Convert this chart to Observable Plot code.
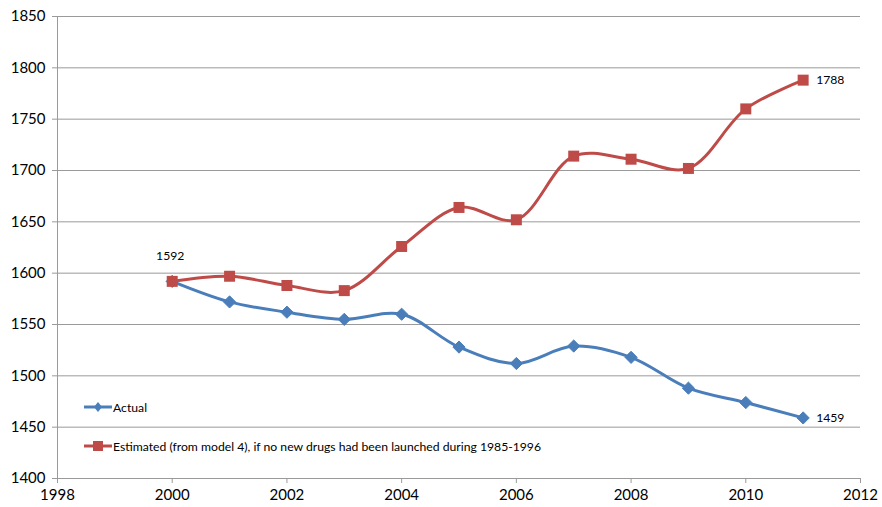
<!DOCTYPE html>
<html>
<head>
<meta charset="utf-8">
<script src="https://cdn.jsdelivr.net/npm/d3@7"></script>
<script src="https://cdn.jsdelivr.net/npm/@observablehq/plot@0.6"></script>
<style>
  html, body { margin: 0; padding: 0; background: #fff; }
  #wrap { position: relative; width: 882px; height: 507px; font-family: Lato, "Liberation Sans", sans-serif; }
  .leg { position: absolute; display: flex; align-items: center; font-size: 12.2px; color: #000; white-space: nowrap; }
  .leg svg { margin-right: 1px; }
</style>
</head>
<body>
<div id="wrap"></div>
<script>
const years = [2000, 2001, 2002, 2003, 2004, 2005, 2006, 2007, 2008, 2009, 2010, 2011];
const actual = [1592, 1572, 1562, 1555, 1560, 1528, 1512, 1529, 1518, 1488, 1474, 1459];
const estimated = [1592, 1597, 1588, 1583, 1626, 1664, 1652, 1714, 1711, 1702, 1760, 1788];
const seriesNames = ["Actual", "Estimated (from model 4), if no new drugs had been launched during 1985-1996"];
const seriesColors = ["#4a7ebb", "#be4b48"];
const xTicks = [1998, 2000, 2002, 2004, 2006, 2008, 2010, 2012];
const yTicks = [1400, 1450, 1500, 1550, 1600, 1650, 1700, 1750, 1800, 1850];

const actualData = years.map((y, i) => ({year: y, value: actual[i]}));
const estData = years.map((y, i) => ({year: y, value: estimated[i]}));
const lastA = actualData.slice(-1);
const lastE = estData.slice(-1);
const firstE = estData.slice(0, 1);

const plot = Plot.plot({
  width: 882,
  height: 507,
  marginLeft: 57,
  marginRight: 22,
  marginTop: 16,
  marginBottom: 29,
  style: {fontFamily: "Lato, 'Liberation Sans', sans-serif", background: "#fff", overflow: "visible"},
  x: {domain: [1998, 2012]},
  y: {domain: [1400, 1850]},
  marks: [
    Plot.ruleY(yTicks, {stroke: "#9a9a9a", strokeWidth: 1}),
    Plot.ruleX([1998], {stroke: "#9a9a9a", strokeWidth: 1}),
    Plot.axisY({ticks: yTicks, tickSize: 5, tickPadding: 7, fontSize: 15, stroke: "#9a9a9a", color: "#000", tickFormat: d => String(d), label: null}),
    Plot.axisX({ticks: xTicks, tickSize: 5, tickPadding: 6, fontSize: 15, stroke: "#9a9a9a", color: "#000", tickFormat: d => String(d), label: null}),
    Plot.lineY(actualData, {x: "year", y: "value", stroke: seriesColors[0], strokeWidth: 3, curve: "catmull-rom"}),
    Plot.lineY(estData, {x: "year", y: "value", stroke: seriesColors[1], strokeWidth: 3, curve: "catmull-rom"}),
    Plot.dot(actualData, {x: "year", y: "value", symbol: "diamond2", r: 5.5, fill: seriesColors[0], stroke: seriesColors[0], strokeWidth: 1}),
    Plot.dot(estData, {x: "year", y: "value", symbol: "square", r: 6.2, fill: seriesColors[1], stroke: seriesColors[1], strokeWidth: 0}),
    Plot.text(lastE, {x: "year", y: "value", text: d => String(d.value), dx: 13, textAnchor: "start", fontSize: 12.2, fill: "#000"}),
    Plot.text(lastA, {x: "year", y: "value", text: d => String(d.value), dx: 13, textAnchor: "start", fontSize: 12.2, fill: "#000"}),
    Plot.text(firstE, {x: "year", y: "value", text: d => String(d.value), dx: -2, dy: -25, textAnchor: "middle", fontSize: 12.2, fill: "#000"})
  ]
});

const wrap = document.getElementById("wrap");
wrap.appendChild(plot);

function legendItem(name, color, symbol, top) {
  const div = document.createElement("div");
  div.className = "leg";
  div.style.left = "84px";
  div.style.top = (top - 8) + "px";
  const sym = symbol === "diamond"
    ? `<polygon points="14,3 18,8 14,13 10,8" fill="${color}"/>`
    : `<rect x="9" y="3" width="10" height="10" fill="${color}"/>`;
  div.innerHTML = `<svg width="28" height="16"><line x1="0" x2="28" y1="8" y2="8" stroke="${color}" stroke-width="3"/>${sym}</svg><span>${name}</span>`;
  wrap.appendChild(div);
}
legendItem(seriesNames[0], seriesColors[0], "diamond", 407);
legendItem(seriesNames[1], seriesColors[1], "square", 446);
</script>
</body>
</html>
